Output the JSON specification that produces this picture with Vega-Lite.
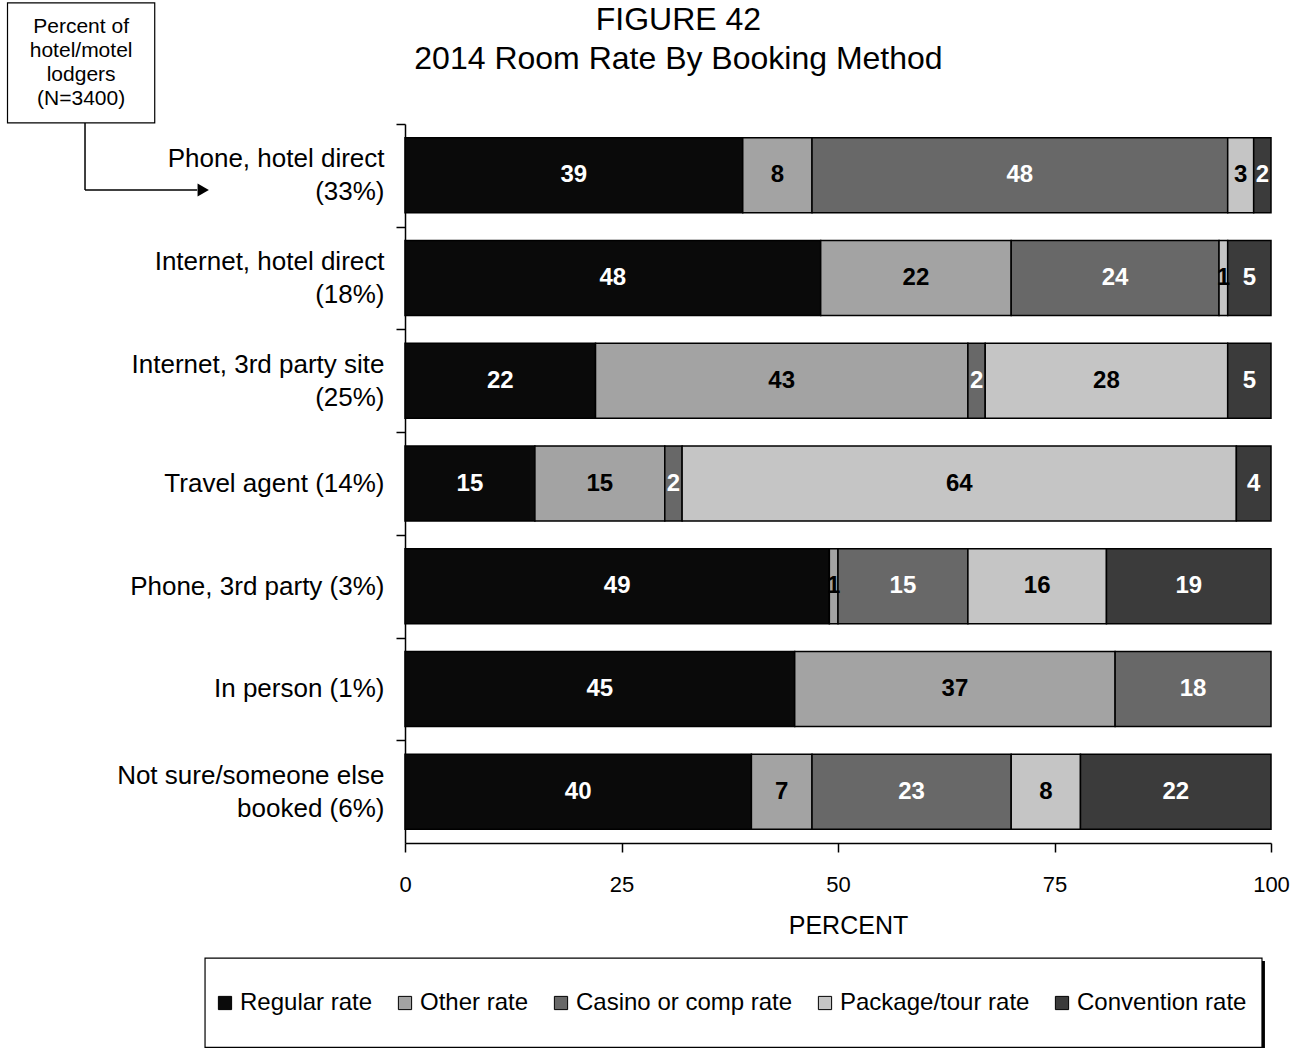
{
  "$schema": "https://vega.github.io/schema/vega-lite/v6.json",
  "autosize": "none",
  "width": 866,
  "height": 719,
  "padding": {"left": 405, "top": 124, "right": 27, "bottom": 205},
  "config": {
    "view": {"stroke": null},
    "font": "Liberation Sans",
    "text": {"font": "Liberation Sans"}
  },
  "datasets": {
    "main": [
      {"method": "Phone, hotel direct\n(33%)", "rate": "Regular rate", "value": 39},
      {"method": "Phone, hotel direct\n(33%)", "rate": "Other rate", "value": 8},
      {"method": "Phone, hotel direct\n(33%)", "rate": "Casino or comp rate", "value": 48},
      {"method": "Phone, hotel direct\n(33%)", "rate": "Package/tour rate", "value": 3},
      {"method": "Phone, hotel direct\n(33%)", "rate": "Convention rate", "value": 2},
      {"method": "Internet, hotel direct\n(18%)", "rate": "Regular rate", "value": 48},
      {"method": "Internet, hotel direct\n(18%)", "rate": "Other rate", "value": 22},
      {"method": "Internet, hotel direct\n(18%)", "rate": "Casino or comp rate", "value": 24},
      {"method": "Internet, hotel direct\n(18%)", "rate": "Package/tour rate", "value": 1},
      {"method": "Internet, hotel direct\n(18%)", "rate": "Convention rate", "value": 5},
      {"method": "Internet, 3rd party site\n(25%)", "rate": "Regular rate", "value": 22},
      {"method": "Internet, 3rd party site\n(25%)", "rate": "Other rate", "value": 43},
      {"method": "Internet, 3rd party site\n(25%)", "rate": "Casino or comp rate", "value": 2},
      {"method": "Internet, 3rd party site\n(25%)", "rate": "Package/tour rate", "value": 28},
      {"method": "Internet, 3rd party site\n(25%)", "rate": "Convention rate", "value": 5},
      {"method": "Travel agent (14%)", "rate": "Regular rate", "value": 15},
      {"method": "Travel agent (14%)", "rate": "Other rate", "value": 15},
      {"method": "Travel agent (14%)", "rate": "Casino or comp rate", "value": 2},
      {"method": "Travel agent (14%)", "rate": "Package/tour rate", "value": 64},
      {"method": "Travel agent (14%)", "rate": "Convention rate", "value": 4},
      {"method": "Phone, 3rd party (3%)", "rate": "Regular rate", "value": 49},
      {"method": "Phone, 3rd party (3%)", "rate": "Other rate", "value": 1},
      {"method": "Phone, 3rd party (3%)", "rate": "Casino or comp rate", "value": 15},
      {"method": "Phone, 3rd party (3%)", "rate": "Package/tour rate", "value": 16},
      {"method": "Phone, 3rd party (3%)", "rate": "Convention rate", "value": 19},
      {"method": "In person (1%)", "rate": "Regular rate", "value": 45},
      {"method": "In person (1%)", "rate": "Other rate", "value": 37},
      {"method": "In person (1%)", "rate": "Casino or comp rate", "value": 18},
      {"method": "Not sure/someone else\nbooked (6%)", "rate": "Regular rate", "value": 40},
      {"method": "Not sure/someone else\nbooked (6%)", "rate": "Other rate", "value": 7},
      {"method": "Not sure/someone else\nbooked (6%)", "rate": "Casino or comp rate", "value": 23},
      {"method": "Not sure/someone else\nbooked (6%)", "rate": "Package/tour rate", "value": 8},
      {"method": "Not sure/someone else\nbooked (6%)", "rate": "Convention rate", "value": 22}
    ],
    "one": [{}]
  },
  "layer": [
    {
      "data": {"name": "main"},
      "transform": [
        {"calculate": "indexof(['Regular rate','Other rate','Casino or comp rate','Package/tour rate','Convention rate'], datum.rate)", "as": "ord"},
        {"stack": "value", "groupby": ["method"], "sort": [{"field": "ord", "order": "ascending"}], "as": ["x0", "x1"]}
      ],
      "mark": {"type": "bar", "stroke": "#000000", "strokeWidth": 1.5},
      "encoding": {
        "y": {
          "field": "method", "type": "nominal", "sort": null,
          "scale": {"paddingInner": 0.27, "paddingOuter": 0.135},
          "axis": {
            "title": null,
            "labelExpr": "split(datum.label, '\\n')",
            "labelFontSize": 26,
            "labelColor": "#000000",
            "labelLineHeight": 33,
            "labelAlign": "right",
            "labelBaseline": "middle",
            "labelPadding": 12,
            "labelLimit": 400,
            "tickOffset": -51.36,
            "labelOffset": {"condition": {"test": "indexof(datum.value, '\\n') >= 0", "value": 34.86}, "value": 51.36},
            "tickSize": 9,
            "tickColor": "#000000",
            "tickWidth": 1.5,
            "domainColor": "#000000",
            "domainWidth": 1.5
          }
        },
        "x": {
          "field": "x0", "type": "quantitative",
          "scale": {"domain": [0, 100], "nice": false},
          "axis": {
            "title": "PERCENT",
            "values": [0, 25, 50, 75, 100],
            "grid": false,
            "labelFlush": false,
            "labelFontSize": 22,
            "labelColor": "#000000",
            "labelPadding": 22,
            "tickSize": 9,
            "tickColor": "#000000",
            "tickWidth": 1.5,
            "domainColor": "#000000",
            "domainWidth": 1.5,
            "titleFontSize": 25,
            "titleFontWeight": "normal",
            "titleColor": "#000000",
            "titlePadding": 18,
            "titleX": 443,
            "encode": {"domain": {"update": {"x": {"value": -9}, "x2": {"signal": "width + 19"}}}}
          }
        },
        "x2": {"field": "x1"},
        "color": {
          "field": "rate", "type": "nominal",
          "scale": {
            "domain": ["Regular rate", "Other rate", "Casino or comp rate", "Package/tour rate", "Convention rate"],
            "range": ["#0a0a0a", "#a3a3a3", "#686868", "#c5c5c5", "#3b3b3b"]
          },
          "legend": {
            "title": null,
            "orient": "none",
            "direction": "horizontal",
            "legendX": -192,
            "legendY": 867,
            "symbolType": "square",
            "symbolSize": 175,
            "symbolStrokeColor": "#000000",
            "symbolStrokeWidth": 1,
            "symbolOpacity": 1,
            "labelFontSize": 24,
            "labelColor": "#000000",
            "labelOffset": 3,
            "columnPadding": 20,
            "labelLimit": 300
          }
        }
      }
    },
    {
      "data": {"name": "main"},
      "transform": [
        {"calculate": "indexof(['Regular rate','Other rate','Casino or comp rate','Package/tour rate','Convention rate'], datum.rate)", "as": "ord"},
        {"stack": "value", "groupby": ["method"], "sort": [{"field": "ord", "order": "ascending"}], "as": ["x0", "x1"]},
        {"calculate": "(datum.x0 + datum.x1) / 2", "as": "mid"}
      ],
      "mark": {"type": "text", "fontSize": 24, "fontWeight": "bold", "baseline": "middle", "align": "center"},
      "encoding": {
        "y": {"field": "method", "type": "nominal", "sort": null, "scale": {"paddingInner": 0.27, "paddingOuter": 0.135}, "axis": null},
        "x": {"field": "mid", "type": "quantitative"},
        "text": {"field": "value", "type": "quantitative"},
        "color": {
          "condition": {"test": "datum.rate === 'Other rate' || datum.rate === 'Package/tour rate'", "value": "#000000"},
          "value": "#ffffff"
        }
      }
    },
    {
      "data": {"name": "one"},
      "mark": {"type": "rect", "fill": "#000000"},
      "encoding": {
        "x": {"datum": -22.75},
        "x2": {"datum": 99.3},
        "y": {"datum": 8.15, "type": "quantitative", "scale": {"domain": [0, 7], "reverse": true, "nice": false, "zero": false}, "axis": null},
        "y2": {"datum": 9.2}
      }
    },
    {
      "data": {"name": "one"},
      "mark": {"type": "rect", "fill": "#ffffff", "stroke": "#000000", "strokeWidth": 1.2},
      "encoding": {
        "x": {"datum": -23.09},
        "x2": {"datum": 98.96},
        "y": {"datum": 8.12, "type": "quantitative", "scale": {"domain": [0, 7], "reverse": true, "nice": false, "zero": false}, "axis": null},
        "y2": {"datum": 8.99}
      }
    },
    {
      "data": {"name": "one"},
      "mark": {"type": "rect", "fill": "#ffffff", "stroke": "#000000", "strokeWidth": 1.2},
      "encoding": {
        "x": {"datum": -45.9},
        "x2": {"datum": -28.9},
        "y": {"datum": -1.18, "type": "quantitative", "scale": {"domain": [0, 7], "reverse": true, "nice": false, "zero": false}, "axis": null},
        "y2": {"datum": -0.01}
      }
    },
    {
      "data": {"name": "one"},
      "mark": {"type": "text", "text": ["Percent of", "hotel/motel", "lodgers", "(N=3400)"], "fontSize": 21, "lineHeight": 24, "align": "center", "baseline": "middle", "color": "#000000"},
      "encoding": {
        "x": {"datum": -37.4},
        "y": {"datum": -0.944, "type": "quantitative", "scale": {"domain": [0, 7], "reverse": true, "nice": false, "zero": false}, "axis": null}
      }
    },
    {
      "data": {"name": "one"},
      "mark": {"type": "rule", "color": "#000000", "strokeWidth": 1.5},
      "encoding": {
        "x": {"datum": -36.95},
        "y": {"datum": -0.01, "type": "quantitative", "scale": {"domain": [0, 7], "reverse": true, "nice": false, "zero": false}, "axis": null},
        "y2": {"datum": 0.643}
      }
    },
    {
      "data": {"name": "one"},
      "mark": {"type": "rule", "color": "#000000", "strokeWidth": 1.5},
      "encoding": {
        "x": {"datum": -36.95},
        "x2": {"datum": -24.0},
        "y": {"datum": 0.643, "type": "quantitative", "scale": {"domain": [0, 7], "reverse": true, "nice": false, "zero": false}, "axis": null}
      }
    },
    {
      "data": {"name": "one"},
      "mark": {"type": "point", "shape": "triangle-right", "filled": true, "size": 170, "color": "#000000", "opacity": 1},
      "encoding": {
        "x": {"datum": -23.3},
        "y": {"datum": 0.643, "type": "quantitative", "scale": {"domain": [0, 7], "reverse": true, "nice": false, "zero": false}, "axis": null}
      }
    },
    {
      "data": {"name": "one"},
      "mark": {"type": "text", "text": ["FIGURE 42", "2014 Room Rate By Booking Method"], "fontSize": 32, "lineHeight": 39, "align": "center", "baseline": "middle", "color": "#000000"},
      "encoding": {
        "x": {"datum": 31.58},
        "y": {"datum": -1.012, "type": "quantitative", "scale": {"domain": [0, 7], "reverse": true, "nice": false, "zero": false}, "axis": null}
      }
    }
  ],
  "resolve": {"scale": {"y": "independent"}}
}
